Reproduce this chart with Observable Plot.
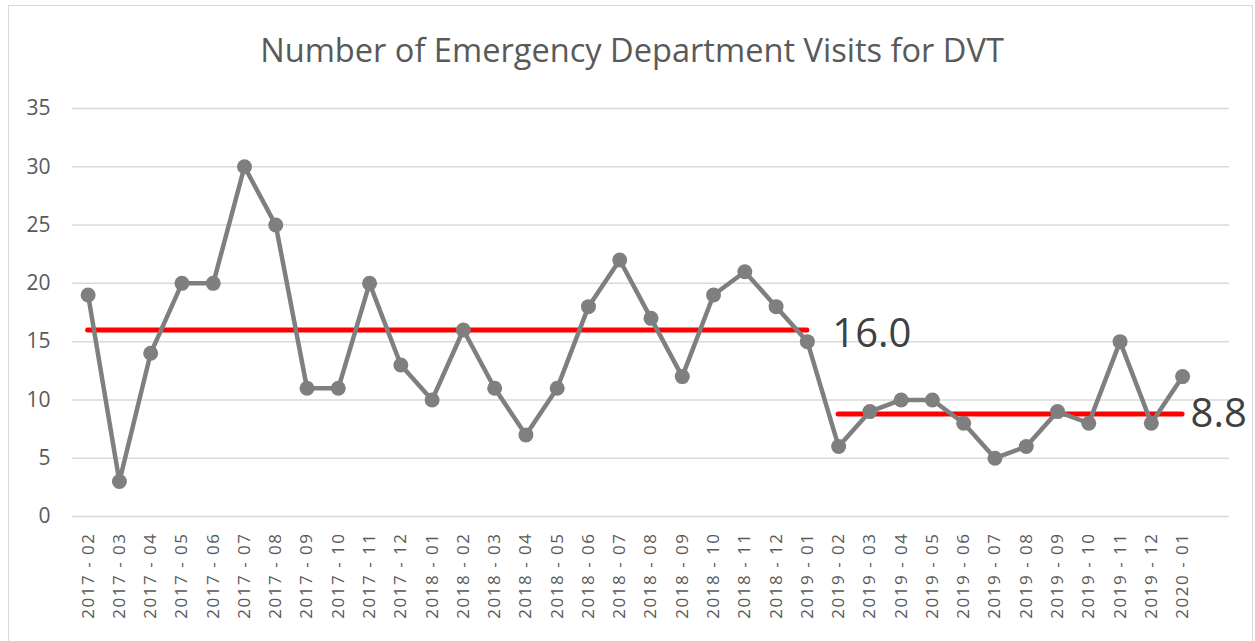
<!DOCTYPE html>
<html>
<head>
<meta charset="utf-8">
<script src="https://cdn.jsdelivr.net/npm/d3@7"></script>
<script src="https://cdn.jsdelivr.net/npm/@observablehq/plot@0.6"></script>
<style>
  html, body { margin: 0; padding: 0; background: #fff; }
  #chart { position: relative; width: 1255px; height: 641px; overflow: hidden; }
  #frame { position: absolute; left: 8px; top: 5px; width: 1245px; height: 660px; border: 1.5px solid #d9d9d9; box-sizing: border-box; }
  #chart svg { position: absolute; left: 0; top: 0; }
  g[aria-label="x-axis tick label"] text { letter-spacing: 1.5px; }
</style>
</head>
<body>
<div id="chart"><div id="frame"></div></div>
<script>
const title = "Number of Emergency Department Visits for DVT";
const months = [
  "2017 - 02","2017 - 03","2017 - 04","2017 - 05","2017 - 06","2017 - 07","2017 - 08","2017 - 09","2017 - 10","2017 - 11","2017 - 12",
  "2018 - 01","2018 - 02","2018 - 03","2018 - 04","2018 - 05","2018 - 06","2018 - 07","2018 - 08","2018 - 09","2018 - 10","2018 - 11","2018 - 12",
  "2019 - 01","2019 - 02","2019 - 03","2019 - 04","2019 - 05","2019 - 06","2019 - 07","2019 - 08","2019 - 09","2019 - 10","2019 - 11","2019 - 12",
  "2020 - 01"
];
// empty trailing category on the axis
const emptyCategories = ["2020 - 02"];
const visits = [19,3,14,20,20,30,25,11,11,20,13,10,16,11,7,11,18,22,17,12,19,21,18,15,6,9,10,10,8,5,6,9,8,15,8,12];
const meanStarts = ["2017 - 02", "2019 - 02"];
const meanEnds = ["2019 - 01", "2020 - 01"];
const meanValues = [16.0, 8.8];
const meanLabels = ["16.0", "8.8"];
const yTicks = [0,5,10,15,20,25,30,35];

const data = months.map((m, i) => ({month: m, visits: visits[i]}));
const means = meanValues.map((v, i) => ({start: meanStarts[i], end: meanEnds[i], mean: v, label: meanLabels[i]}));

const font = "'Open Sans', 'Noto Sans', sans-serif";
const plot = Plot.plot({
  width: 1255,
  height: 641,
  marginTop: 108,
  marginBottom: 125,
  marginLeft: 72,
  marginRight: 26,
  style: {fontFamily: font, background: "transparent", color: "#595959"},
  x: {type: "point", domain: months.concat(emptyCategories), padding: 0.5, round: false},
  y: {domain: [0, 35]},
  marks: [
    Plot.gridY(yTicks, {stroke: "#d9d9d9", strokeOpacity: 1, strokeWidth: 1.5}),
    Plot.axisY(yTicks, {tickSize: 0, tickPadding: 22, fontSize: 21, fill: "#595959", label: null}),
    Plot.axisX(months, {tickSize: 0, tickPadding: 16, tickRotate: -90, fontSize: 17, fill: "#595959", label: null}),
    Plot.ruleY(means, {y: "mean", x1: "start", x2: "end", stroke: "#ff0000", strokeWidth: 5, strokeLinecap: "round"}),
    Plot.line(data, {x: "month", y: "visits", stroke: "#7f7f7f", strokeWidth: 4.5}),
    Plot.dot(data, {x: "month", y: "visits", r: 7.5, fill: "#7f7f7f"}),
    Plot.text(means.slice(0, 1), {x: "end", y: "mean", text: "label", textAnchor: "start", dx: 25, dy: 4, fontSize: 40, fill: "#404040"}),
    Plot.text(means.slice(1), {x: "end", y: "mean", text: "label", textAnchor: "start", dx: 8, dy: 0, fontSize: 40, fill: "#404040"}),
    Plot.text([title], {frameAnchor: "top", lineAnchor: "middle", dx: -19, dy: -57, fontSize: 32.6, fill: "#595959"})
  ]
});
document.getElementById("chart").appendChild(plot);
</script>
</body>
</html>
